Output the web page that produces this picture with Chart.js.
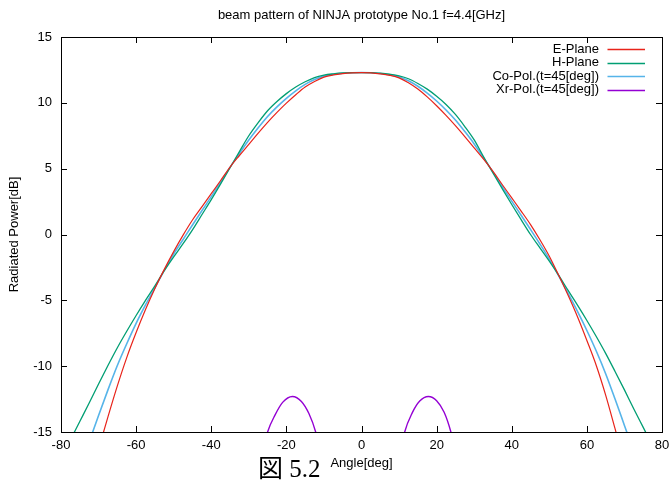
<!DOCTYPE html>
<html>
<head>
<meta charset="utf-8">
<script src="https://cdn.jsdelivr.net/npm/chart.js@4"></script>
<style>
  html, body { margin: 0; padding: 0; background: #fff; }
  #wrap { position: relative; width: 670px; height: 482px; }
  canvas { display: block; }
</style>
</head>
<body>
<div id="wrap"><canvas id="c" width="670" height="482"></canvas></div>
<script>
// ---- data ----
const titleText = 'beam pattern of NINJA prototype No.1 f=4.4[GHz]';
const xTitle = 'Angle[deg]';
const yTitle = 'Radiated Power[dB]';
const caption = '図 5.2';
const seriesNames = ['E-Plane', 'H-Plane', 'Co-Pol.(t=45[deg])', 'Xr-Pol.(t=45[deg])'];
const seriesColors = ['#e8231a', '#009e73', '#56b4e9', '#9400d3'];
const xTicks = [-80, -60, -40, -20, 0, 20, 40, 60, 80];
const yTicks = [-15, -10, -5, 0, 5, 10, 15];

const angles = [-80, -77.5, -75, -72.5, -70, -67.5, -65, -62.5, -60, -57.5, -55, -52.5, -50, -47.5, -45, -42.5,
  -40, -37.5, -35, -32.5, -30, -27.5, -25, -22.5, -20, -17.5, -15, -12.5, -10, -7.5, -5, -2.5,
  0, 2.5, 5, 7.5, 10, 12.5, 15, 17.5, 20, 22.5, 25, 27.5, 30, 32.5, 35, 37.5,
  40, 42.5, 45, 47.5, 50, 52.5, 55, 57.5, 60, 62.5, 65, 67.5, 70, 72.5, 75, 77.5, 80];

const ePlane = [-26.4, -23.9, -21.3, -18.8, -16.3, -13.85, -11.5, -9.35, -7.45, -5.7, -4.1, -2.65, -1.3, -0.05, 1.1, 2.1,
  3.1, 4.1, 5.12, 6.0, 6.85, 7.7, 8.52, 9.28, 9.98, 10.62, 11.2, 11.62, 11.95, 12.12, 12.22, 12.28,
  12.3, 12.27, 12.2, 12.09, 11.9, 11.53, 11.05, 10.45, 9.78, 9.05, 8.27, 7.44, 6.58, 5.72, 4.8, 3.78,
  2.78, 1.78, 0.75, -0.4, -1.65, -3.1, -4.62, -6.25, -8.05, -9.95, -12.2, -14.75, -17.35, -19.95, -22.5, -25.1, -27.7];

const hPlane = [-17.0, -15.6, -14.2, -12.8, -11.35, -9.95, -8.6, -7.35, -6.15, -5.0, -3.9, -2.75, -1.7, -0.7, 0.35, 1.5,
  2.65, 3.85, 5.07, 6.3, 7.5, 8.5, 9.4, 10.1, 10.7, 11.2, 11.6, 11.92, 12.1, 12.2, 12.27, 12.3,
  12.3, 12.3, 12.25, 12.17, 12.05, 11.83, 11.47, 11.04, 10.5, 9.88, 9.12, 8.2, 7.18, 5.9, 4.68, 3.47,
  2.28, 1.13, 0.0, -1.02, -2.03, -3.1, -4.25, -5.37, -6.53, -7.75, -9.03, -10.4, -11.8, -13.25, -14.65, -16.05, -17.45];

const coPol = [-22, -19.9, -17.8, -15.75, -13.75, -11.8, -9.95, -8.3, -6.75, -5.35, -4.05, -2.72, -1.48, -0.38, 0.72, 1.8,
  2.88, 3.98, 5.1, 6.15, 7.17, 8.1, 8.96, 9.69, 10.34, 10.91, 11.4, 11.77, 12.03, 12.16, 12.25, 12.29,
  12.3, 12.29, 12.23, 12.13, 11.97, 11.68, 11.26, 10.74, 10.14, 9.46, 8.7, 7.82, 6.88, 5.81, 4.74, 3.63,
  2.53, 1.46, 0.38, -0.72, -1.87, -3.14, -4.48, -5.84, -7.29, -8.85, -10.57, -12.5, -14.5, -16.5, -18.5, -20.5, -22.6];

const xrAngles = [-28, -25, -23, -21, -18.4, -16, -14, -12.2, -9, 0, 9, 11.5, 13.5, 15.5, 17.8, 20, 22, 23.8, 27];
const xrPol = [-18.5, -15.0, -13.7, -12.75, -12.3, -12.68, -13.6, -15.0, -19, -35, -18.5, -15.0, -13.55, -12.65, -12.3, -12.62, -13.5, -15.0, -19];

// ---- build datasets ----
function pts(xs, ys) { return xs.map((x, i) => ({ x: x, y: ys[i] })); }
const seriesData = [pts(angles, ePlane), pts(angles, hPlane), pts(angles, coPol), pts(xrAngles, xrPol)];
const widths = [1.2, 1.3, 1.6, 1.4];

const datasets = seriesData.map((d, i) => ({
  label: seriesNames[i],
  data: d,
  borderColor: seriesColors[i],
  backgroundColor: seriesColors[i],
  borderWidth: widths[i],
  pointRadius: 0,
  fill: false,
  cubicInterpolationMode: 'monotone'
}));

const FONT = '"Liberation Sans", Arial, sans-serif';

const framePlugin = {
  id: 'frame',
  beforeDatasetsDraw(chart) {
    const { ctx, chartArea: a, scales } = chart;
    ctx.save();
    ctx.strokeStyle = '#000';
    ctx.lineWidth = 1;
    ctx.beginPath();
    const L = 6;
    xTicks.forEach(v => {
      const px = Math.round(scales.x.getPixelForValue(v)) + 0.5;
      ctx.moveTo(px, a.bottom); ctx.lineTo(px, a.bottom - L);
      ctx.moveTo(px, a.top); ctx.lineTo(px, a.top + L);
    });
    yTicks.forEach(v => {
      const py = Math.round(scales.y.getPixelForValue(v)) + 0.5;
      ctx.moveTo(a.left, py); ctx.lineTo(a.left + L, py);
      ctx.moveTo(a.right, py); ctx.lineTo(a.right - L, py);
    });
    ctx.stroke();
    ctx.strokeRect(Math.round(a.left) + 0.5, Math.round(a.top) + 0.5,
      Math.round(a.right - a.left), Math.round(a.bottom - a.top));
    ctx.restore();
  },
  afterDatasetsDraw(chart) {
    const { ctx, chartArea: a } = chart;
    ctx.save();
    ctx.font = '13px ' + FONT;
    ctx.textAlign = 'right';
    ctx.textBaseline = 'middle';
    chart.data.datasets.forEach((ds, i) => {
      const y = a.top + 12.3 + i * 13.4;
      ctx.fillStyle = '#000';
      ctx.fillText(ds.label, a.right - 63, y);
      ctx.strokeStyle = ds.borderColor;
      ctx.lineWidth = Math.max(1.5, ds.borderWidth);
      ctx.beginPath();
      ctx.moveTo(a.right - 54.5, Math.round(y) + 0.5);
      ctx.lineTo(a.right - 17, Math.round(y) + 0.5);
      ctx.stroke();
    });
    // caption
    ctx.fillStyle = '#000';
    ctx.textAlign = 'left';
    ctx.textBaseline = 'alphabetic';
    ctx.font = '25px "Liberation Serif", "Noto Sans CJK JP", serif';
    ctx.fillText(caption, 258, 477);
    ctx.restore();
  }
};

new Chart(document.getElementById('c'), {
  type: 'line',
  data: { datasets: datasets },
  options: {
    responsive: false,
    animation: false,
    devicePixelRatio: 1,
    layout: { padding: { left: 0, right: 0, top: 0, bottom: 0 } },
    plugins: {
      legend: { display: false },
      tooltip: { enabled: false },
      title: {
        display: true,
        text: titleText,
        fullSize: false,
        color: '#000',
        font: { family: FONT, size: 13, weight: 'normal' },
        padding: { top: 8, bottom: 13.4 }
      }
    },
    scales: {
      x: {
        type: 'linear',
        min: -80, max: 80,
        grid: { display: false, drawTicks: false },
        border: { display: false },
        ticks: { stepSize: 20, color: '#000', padding: 6, font: { family: FONT, size: 13 }, maxRotation: 0 },
        title: { display: true, text: xTitle, color: '#000', font: { family: FONT, size: 13 }, padding: { top: 0, bottom: 11 } },
        afterFit(s) { s.height = 50; s.paddingLeft = 0; s.paddingRight = 8; }
      },
      y: {
        type: 'linear',
        min: -15, max: 15,
        grid: { display: false, drawTicks: false },
        border: { display: false },
        ticks: { stepSize: 5, color: '#000', padding: 9, font: { family: FONT, size: 13 } },
        title: { display: true, text: yTitle, color: '#000', font: { family: FONT, size: 13 }, padding: { top: 7, bottom: 0 } },
        afterFit(s) { s.width = 61; }
      }
    }
  },
  plugins: [framePlugin]
});
</script>
</body>
</html>
